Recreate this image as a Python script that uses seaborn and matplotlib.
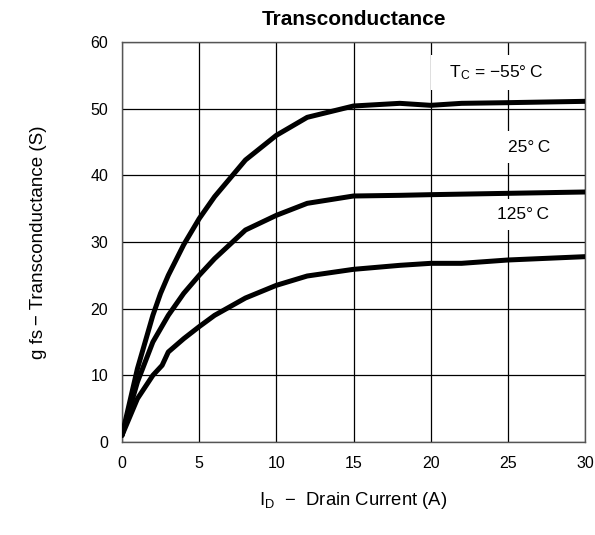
import matplotlib
matplotlib.use("Agg")
import matplotlib.pyplot as plt
import seaborn as sns
import pandas as pd

# Data
current_m55 = [0, 1, 2, 2.5, 3, 4, 5, 6, 8, 10, 12, 15, 18, 20, 22, 25, 30]
gfs_m55 = [1, 11, 19.0, 22.3, 25, 29.6, 33.5, 36.8, 42.3, 46, 48.7, 50.4, 50.8, 50.5, 50.8, 50.9, 51.1]

current_25 = [0, 1, 2, 3, 4, 5, 6, 8, 10, 12, 15, 18, 20, 25, 30]
gfs_25 = [1, 9, 15, 19, 22.3, 25, 27.5, 31.8, 34, 35.8, 36.9, 37.0, 37.1, 37.3, 37.5]

current_125 = [0, 1, 2, 2.6, 3, 4, 5, 6, 8, 10, 12, 15, 18, 20, 22, 25, 30]
gfs_125 = [1, 6.5, 10, 11.5, 13.5, 15.5, 17.3, 19.0, 21.6, 23.5, 24.9, 25.9, 26.5, 26.8, 26.8, 27.3, 27.8]

x_ticks = [0, 5, 10, 15, 20, 25, 30]
y_ticks = [0, 10, 20, 30, 40, 50, 60]

df = pd.concat([
    pd.DataFrame({"I": current_m55, "g": gfs_m55, "T": "-55"}),
    pd.DataFrame({"I": current_25, "g": gfs_25, "T": "25"}),
    pd.DataFrame({"I": current_125, "g": gfs_125, "T": "125"}),
])

sns.set_theme(style="white")
plt.rcParams["font.family"] = ["Liberation Sans", "DejaVu Sans"]
plt.rcParams["mathtext.fontset"] = "custom"
plt.rcParams["mathtext.rm"] = "Liberation Sans"
plt.rcParams["mathtext.it"] = "Liberation Sans"
plt.rcParams["text.color"] = "black"
plt.rcParams["axes.labelcolor"] = "black"

fig = plt.figure(figsize=(5.95, 5.35), dpi=100)
ax = fig.add_axes([122/595, 93/535, 463/595, 400/535])

sns.lineplot(data=df, x="I", y="g", hue="T", palette=["black"] * 3,
             linewidth=3.6, legend=False, ax=ax, sort=False, zorder=3)

ax.set_xlim(0, 30)
ax.set_ylim(0, 60)
ax.set_xticks(x_ticks)
ax.set_yticks(y_ticks)
ax.grid(True, color="black", linewidth=0.9, zorder=0)
ax.set_axisbelow(True)
for s in ax.spines.values():
    s.set_color("#555555")
    s.set_linewidth(1.0)
ax.tick_params(length=0, labelsize=11.5, colors="black", pad=10)

ax.set_title("Transconductance", fontsize=15, fontweight="bold", pad=12)
ax.set_xlabel("I$_\\mathrm{D}$  \u2212  Drain Current (A)", fontsize=13.3, labelpad=14)
ax.set_ylabel("g fs\u2009\u2212 Transconductance (S)", fontsize=13.5, labelpad=31)

box = dict(facecolor="white", edgecolor="none", pad=6)
ax.text(24.1, 55.4, "  T$_\\mathrm{C}$ = \u221255\u00b0\u2009C  ",
        ha="center", va="center", fontsize=12.5, bbox=box, zorder=2)
ax.text(26.35, 44.2, "25\u00b0\u2009C", ha="center", va="center", fontsize=12.5, bbox=box, zorder=2)
ax.text(26.0, 34.1, "125\u00b0\u2009C", ha="center", va="center", fontsize=12.5, bbox=box, zorder=2)

fig.savefig("out.png", dpi=100)
